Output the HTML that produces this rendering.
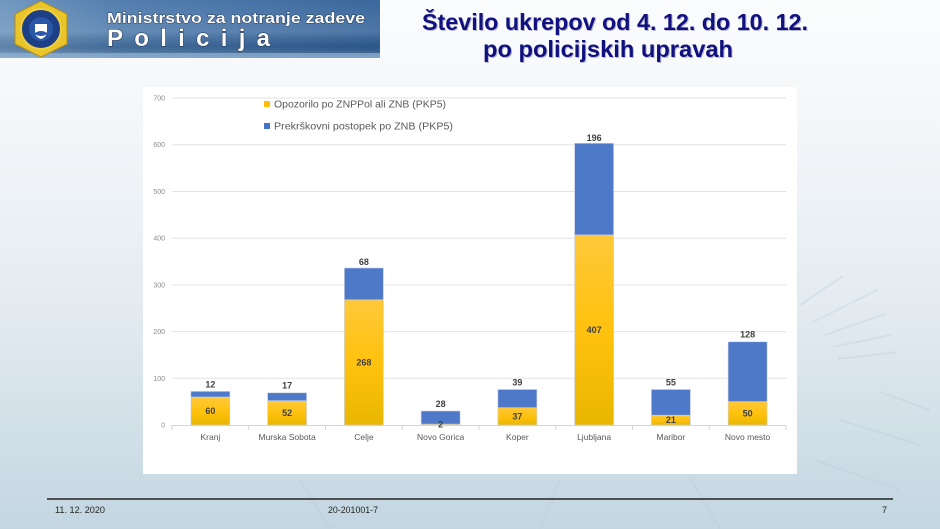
<!DOCTYPE html>
<html><head><meta charset="utf-8"><style>
html,body{margin:0;padding:0;width:940px;height:529px;overflow:hidden;background:#fff}
svg{display:block}
</style></head><body>
<svg width="940" height="529" viewBox="0 0 940 529" xmlns="http://www.w3.org/2000/svg" font-family="Liberation Sans, Arial, sans-serif">
<defs>
<linearGradient id="bg" x1="0" y1="0" x2="0" y2="1">
<stop offset="0" stop-color="#fbfcfd"/>
<stop offset="0.25" stop-color="#f3f6f9"/>
<stop offset="0.6" stop-color="#e2eaf0"/>
<stop offset="1" stop-color="#c3d6e1"/>
</linearGradient>
<linearGradient id="ban" x1="0" y1="0" x2="1" y2="0">
<stop offset="0" stop-color="#6a93bd"/>
<stop offset="0.3" stop-color="#4a78aa"/>
<stop offset="0.7" stop-color="#3b6aa0"/>
<stop offset="1" stop-color="#2f5f97"/>
</linearGradient>
<linearGradient id="banv" x1="0" y1="0" x2="0" y2="1">
<stop offset="0" stop-color="#ffffff" stop-opacity="0.05"/>
<stop offset="0.55" stop-color="#ffffff" stop-opacity="0.15"/>
<stop offset="0.8" stop-color="#000000" stop-opacity="0.1"/>
<stop offset="1" stop-color="#ffffff" stop-opacity="0.25"/>
</linearGradient>
<linearGradient id="yel" x1="0" y1="0" x2="0" y2="1">
<stop offset="0" stop-color="#ffc83a"/>
<stop offset="0.5" stop-color="#ffc20e"/>
<stop offset="1" stop-color="#e9b600"/>
</linearGradient>
</defs>
<rect width="940" height="529" fill="url(#bg)"/>
<!-- rays -->
<g stroke="#b9cad6" stroke-width="2" opacity="0.3" fill="none">
<line x1="800" y1="305" x2="843" y2="276"/>
<line x1="813" y1="322" x2="877" y2="290"/>
<line x1="825" y1="335" x2="885" y2="314"/>
<line x1="833" y1="347" x2="891" y2="335"/>
<line x1="838" y1="359" x2="897" y2="352"/>
<line x1="880" y1="392" x2="930" y2="410"/>
<line x1="840" y1="420" x2="920" y2="445"/>
<line x1="815" y1="460" x2="900" y2="490"/>
<line x1="300" y1="480" x2="330" y2="529"/>
<line x1="560" y1="480" x2="540" y2="529"/>
<line x1="690" y1="478" x2="720" y2="529"/>
</g>
<!-- banner -->
<rect x="0" y="0" width="380" height="58" fill="url(#ban)"/>
<rect x="0" y="0" width="380" height="58" fill="url(#banv)"/>
<rect x="0" y="53" width="380" height="5" fill="#8fb0d0" opacity="0.7"/>
<polygon points="41,1 67,14 67,44 41,57 15,44 15,14" fill="#e9c42a" stroke="#b58f10" stroke-width="1"/>
<circle cx="41" cy="29" r="20" fill="#1d3f85" stroke="#f0d040" stroke-width="2"/>
<circle cx="41" cy="29" r="12" fill="#2a57a8"/>
<path d="M35 24 h12 v7 q0 6 -6 8 q-6 -2 -6 -8z" fill="#ffffff"/>
<path d="M35 33 q6 -4 12 0 v1 q-6 4 -12 0z" fill="#2a57a8"/>
<text x="107" y="23" font-size="15" font-weight="bold" fill="#ffffff" stroke="#1a2a4a" stroke-width="0.8" paint-order="stroke" textLength="258" lengthAdjust="spacingAndGlyphs">Ministrstvo za notranje zadeve</text>
<text x="107" y="46" font-size="24" font-weight="bold" fill="#ffffff" stroke="#1a2a4a" stroke-width="1" paint-order="stroke" textLength="163" lengthAdjust="spacing">Policija</text>
<!-- title -->
<g font-size="23" font-weight="bold" text-anchor="middle">
<text x="616" y="31" fill="#9a9ab0" opacity="0.7" textLength="386" lengthAdjust="spacingAndGlyphs">Število ukrepov od 4. 12. do 10. 12.</text>
<text x="615" y="30" fill="#10107f" textLength="386" lengthAdjust="spacingAndGlyphs">Število ukrepov od 4. 12. do 10. 12.</text>
<text x="609" y="58" fill="#9a9ab0" opacity="0.7" textLength="250" lengthAdjust="spacingAndGlyphs">po policijskih  upravah</text>
<text x="608" y="57" fill="#10107f" textLength="250" lengthAdjust="spacingAndGlyphs">po policijskih  upravah</text>
</g>
<!-- chart panel -->
<rect x="143" y="87" width="654" height="387" fill="#ffffff"/>
<g stroke="#e3e3e3" stroke-width="1">
<line x1="172" y1="98" x2="786" y2="98"/>
<line x1="172" y1="144.7" x2="786" y2="144.7"/>
<line x1="172" y1="191.5" x2="786" y2="191.5"/>
<line x1="172" y1="238.2" x2="786" y2="238.2"/>
<line x1="172" y1="284.9" x2="786" y2="284.9"/>
<line x1="172" y1="331.6" x2="786" y2="331.6"/>
<line x1="172" y1="378.3" x2="786" y2="378.3"/>
</g>
<g stroke="#d4d4d4" stroke-width="1">
<line x1="172" y1="425.5" x2="786" y2="425.5"/>
<line x1="172" y1="425" x2="172" y2="430"/>
<line x1="248.75" y1="425" x2="248.75" y2="430"/>
<line x1="325.5" y1="425" x2="325.5" y2="430"/>
<line x1="402.25" y1="425" x2="402.25" y2="430"/>
<line x1="479" y1="425" x2="479" y2="430"/>
<line x1="555.75" y1="425" x2="555.75" y2="430"/>
<line x1="632.5" y1="425" x2="632.5" y2="430"/>
<line x1="709.25" y1="425" x2="709.25" y2="430"/>
<line x1="786" y1="425" x2="786" y2="430"/>
</g>
<g font-size="7" fill="#8c8c8c" text-anchor="end">
<text x="165" y="100.5">700</text>
<text x="165" y="147.2">600</text>
<text x="165" y="194">500</text>
<text x="165" y="240.7">400</text>
<text x="165" y="287.4">300</text>
<text x="165" y="334.1">200</text>
<text x="165" y="380.8">100</text>
<text x="165" y="427.5">0</text>
</g>
<!-- bars -->
<g stroke="#c9d3e6" stroke-width="0.6">
<rect x="190.9" y="397" width="39" height="28" fill="url(#yel)"/>
<rect x="190.9" y="391.4" width="39" height="5.6" fill="#4e78c8"/>
<rect x="267.6" y="400.7" width="39" height="24.3" fill="url(#yel)"/>
<rect x="267.6" y="392.8" width="39" height="7.9" fill="#4e78c8"/>
<rect x="344.4" y="299.8" width="39" height="125.2" fill="url(#yel)"/>
<rect x="344.4" y="268" width="39" height="31.8" fill="#4e78c8"/>
<rect x="421.1" y="424.1" width="39" height="0.9" fill="url(#yel)"/>
<rect x="421.1" y="411" width="39" height="13.1" fill="#4e78c8"/>
<rect x="497.9" y="407.7" width="39" height="17.3" fill="url(#yel)"/>
<rect x="497.9" y="389.5" width="39" height="18.2" fill="#4e78c8"/>
<rect x="574.6" y="234.9" width="39" height="190.1" fill="url(#yel)"/>
<rect x="574.6" y="143.3" width="39" height="91.6" fill="#4e78c8"/>
<rect x="651.4" y="415.2" width="39" height="9.8" fill="url(#yel)"/>
<rect x="651.4" y="389.5" width="39" height="25.7" fill="#4e78c8"/>
<rect x="728.1" y="401.6" width="39" height="23.4" fill="url(#yel)"/>
<rect x="728.1" y="341.8" width="39" height="59.8" fill="#4e78c8"/>
</g>
<!-- data labels -->
<g font-size="9" font-weight="bold" fill="#404040" text-anchor="middle">
<text x="210.4" y="414">60</text>
<text x="210.4" y="387.5">12</text>
<text x="287.1" y="416">52</text>
<text x="287.1" y="388.5">17</text>
<text x="363.9" y="365.5">268</text>
<text x="363.9" y="265">68</text>
<text x="440.6" y="427.5">2</text>
<text x="440.6" y="407">28</text>
<text x="517.4" y="419.5">37</text>
<text x="517.4" y="385.5">39</text>
<text x="594.1" y="333">407</text>
<text x="594.1" y="141">196</text>
<text x="670.9" y="423">21</text>
<text x="670.9" y="385.5">55</text>
<text x="747.6" y="416.5">50</text>
<text x="747.6" y="337.5">128</text>
</g>
<!-- category labels -->
<g font-size="8.5" fill="#595959" text-anchor="middle">
<text x="210.4" y="440">Kranj</text>
<text x="287.1" y="440">Murska Sobota</text>
<text x="363.9" y="440">Celje</text>
<text x="440.6" y="440">Novo Gorica</text>
<text x="517.4" y="440">Koper</text>
<text x="594.1" y="440">Ljubljana</text>
<text x="670.9" y="440">Maribor</text>
<text x="747.6" y="440">Novo mesto</text>
</g>
<!-- legend -->
<rect x="264" y="101" width="6" height="6" fill="#ffc000"/>
<text x="274" y="107.5" font-size="10" fill="#595959" textLength="172" lengthAdjust="spacingAndGlyphs">Opozorilo po ZNPPol ali ZNB (PKP5)</text>
<rect x="264" y="123" width="6" height="6" fill="#4472c4"/>
<text x="274" y="129.5" font-size="10" fill="#595959" textLength="179" lengthAdjust="spacingAndGlyphs">Prekrškovni postopek po ZNB (PKP5)</text>
<!-- footer -->
<line x1="47" y1="499" x2="893" y2="499" stroke="#222" stroke-width="1.5"/>
<g font-size="9" fill="#222">
<text x="55" y="513" textLength="50" lengthAdjust="spacingAndGlyphs">11. 12. 2020</text>
<text x="328" y="513" textLength="50" lengthAdjust="spacingAndGlyphs">20-201001-7</text>
<text x="882" y="513">7</text>
</g>
</svg>
</body></html>
